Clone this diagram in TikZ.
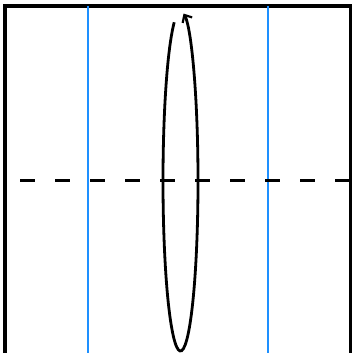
\documentclass[tikz,border=0pt]{standalone}
\usetikzlibrary{arrows.meta}
\definecolor{raycol}{RGB}{30,144,255}
\tikzset{
  frame/.style={draw=black,line width=3.5pt},
  guide/.style={draw=raycol,line width=2pt},
  axisline/.style={draw=black,line width=3pt,dash pattern=on 15pt off 20pt,dash phase=-15pt},
  lensline/.style={draw=black,line width=2.8pt,-{Straight Barb[length=6pt,width=11pt,line width=2.2pt]}}
}
\begin{document}
\begin{tikzpicture}[x=1pt,y=-1pt]
\useasboundingbox (0,0) rectangle (352,353);
\coordinate (tl) at (5,6);
\coordinate (br) at (350.5,354.5);
\draw[frame] (tl) rectangle (br);
\coordinate (b1t) at (87.5,6);
\coordinate (b1b) at (87.5,354);
\coordinate (b2t) at (267.5,6);
\coordinate (b2b) at (267.5,354);
\draw[guide] (b1t) -- (b1b);
\draw[guide] (b2t) -- (b2b);
\coordinate (al) at (5,180);
\coordinate (ar) at (350.5,180);
\draw[axisline] (al) -- (ar);
\coordinate (lc) at (180.5,181);
\draw[lensline] (lc) ++(249:17.5 and 170) arc[start angle=249,end angle=-80,x radius=17.5,y radius=170];
\end{tikzpicture}
\end{document}
